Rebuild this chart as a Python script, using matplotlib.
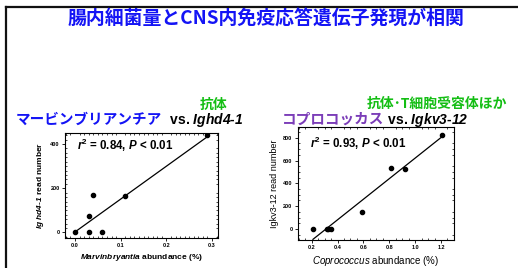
import numpy as np
import matplotlib
matplotlib.use("Agg")
import matplotlib.pyplot as plt
from matplotlib.ticker import MultipleLocator
from matplotlib.lines import Line2D

# ---------------- data ----------------
marvin_x = [0.0, 0.03, 0.06, 0.03, 0.04, 0.11, 0.29]
ighd_y = [0, 0, 0, 75, 170, 165, 440]
copro_x = [0.21, 0.32, 0.33, 0.35, 0.59, 0.81, 0.92, 1.21]
igkv_y = [0, 0, 0, 0, 145, 535, 525, 825]
left_xticks = [0.0, 0.1, 0.2, 0.3]
left_yticks = [0, 200, 400]
right_xticks = [0.2, 0.4, 0.6, 0.8, 1.0, 1.2]
right_yticks = [0, 200, 400, 600, 800]
title = "腸内細菌量とCNS内免疫応答遺伝子発現が相関"
left_name = "マービンブリアンチア"
right_name = "コプロコッカス"
left_tag = "抗体"
right_tag = "抗体･T細胞受容体ほか"
left_stat = r"$\mathbfit{r}^{\mathbf{2}}$ = 0.84, $\mathbfit{P}$ < 0.01"
right_stat = r"$\mathbfit{r}^{\mathbf{2}}$ = 0.93, $\mathbfit{P}$ < 0.01"

plt.rcParams['font.family'] = ['Liberation Sans', 'DejaVu Sans']
plt.rcParams['mathtext.fontset'] = 'custom'
plt.rcParams['mathtext.rm'] = 'Liberation Sans:bold'
plt.rcParams['mathtext.bf'] = 'Liberation Sans:bold'
plt.rcParams['mathtext.it'] = 'Liberation Sans:italic'
plt.rcParams['mathtext.bfit'] = 'Liberation Sans:italic:bold'

W, H = 518, 268
fig = plt.figure(figsize=(W / 100, H / 100), dpi=100)
fig.patch.set_facecolor('white')

def fx(px):
    return px / W

def fy(py):
    return 1 - py / H

JP = ['Noto Sans CJK JP', 'DejaVu Sans']
BLUE = '#1414F5'
GREEN = '#14BE14'
PURPLE = '#7B3DB8'

# slide frame
fig.add_artist(Line2D([fx(5.5), fx(W)], [fy(7), fy(7)], transform=fig.transFigure,
                      color='#111111', lw=1.6))
fig.add_artist(Line2D([fx(5.5), fx(5.5)], [fy(7), fy(H)], transform=fig.transFigure,
                      color='#111111', lw=1.6))

# main title
fig.text(fx(265.5), fy(18), title, family=JP, weight='bold', color=BLUE,
         fontsize=13.6, ha='center', va='center')

# axes
axL = fig.add_axes([fx(65), fy(238), fx(218) - fx(65), fy(133) - fy(238)])
axR = fig.add_axes([fx(297.7), fy(240), fx(454.3) - fx(297.7), fy(126.7) - fy(240)])

def style(ax, xminor, yminor):
    for s in ax.spines.values():
        s.set_linewidth(0.8)
    ax.xaxis.set_minor_locator(MultipleLocator(xminor))
    ax.yaxis.set_minor_locator(MultipleLocator(yminor))
    ax.tick_params(which='major', direction='out', length=2.2, width=0.6,
                   labelsize=4, pad=1.5)
    ax.tick_params(which='minor', direction='in', length=1.4, width=0.5,
                   top=True, right=True)
    for lab in ax.get_xticklabels() + ax.get_yticklabels():
        lab.set_fontweight('bold')

# left panel
axL.scatter(marvin_x, ighd_y, s=9, color='black', zorder=3)
m, b = np.polyfit(marvin_x, ighd_y, 1)
xl = np.array([min(marvin_x), max(marvin_x)])
axL.plot(xl, m * xl + b, color='black', lw=0.9)
axL.set_xlim(-0.022, 0.313)
axL.set_ylim(-25, 450)
axL.set_xticks(left_xticks)
axL.set_xticklabels([f"{v:.1f}" for v in left_xticks])
axL.set_yticks(left_yticks)
style(axL, 0.01, 20)
axL.set_xlabel(r"$\mathbfit{Marvinbryantia}$ abundance (%)", fontsize=6, weight='bold', labelpad=3)
axL.set_ylabel(r"$\mathbfit{Ig\ hd4}\text{-}\mathbfit{1}$ read number", fontsize=6, weight='bold', labelpad=3)
axL.text(0.078, 0.84, left_stat, transform=axL.transAxes, fontsize=8.3, weight='bold',
         ha='left', va='baseline')

# right panel
axR.scatter(copro_x, igkv_y, s=9, color='black', zorder=3)
m2, b2 = np.polyfit(copro_x, igkv_y, 1)
xr = np.array([min(copro_x), max(copro_x)])
axR.plot(xr, m2 * xr + b2, color='black', lw=0.9)
axR.set_xlim(0.092, 1.303)
axR.set_ylim(-97, 897)
axR.set_xticks(right_xticks)
axR.set_xticklabels([f"{v:.1f}" for v in right_xticks])
axR.set_yticks(right_yticks)
style(axR, 0.05, 50)
axR.set_xlabel(r"$\mathit{Coprococcus}$ abundance (%)", fontsize=7, labelpad=2.5)
axR.set_ylabel("Igkv3-12 read number", fontsize=6.5, labelpad=3)
axR.text(0.079, 0.81, right_stat, transform=axR.transAxes, fontsize=8.3, weight='bold',
         ha='left', va='baseline')

# panel titles
t1 = fig.text(fx(16), fy(124), left_name, family=JP, weight='bold', color=BLUE,
              fontsize=10.5, ha='left', va='baseline')
axL.annotate(r"  vs. $\mathbfit{Ighd4}\text{-}\mathbfit{1}$", xy=(1, fy(124)),
             xycoords=(t1, 'figure fraction'), fontsize=10, weight='bold', color='black',
             ha='left', va='baseline', annotation_clip=False)
fig.text(fx(214), fy(109), left_tag, family=JP, weight='bold', color=GREEN,
         fontsize=10, ha='center', va='baseline')

t2 = fig.text(fx(282), fy(124), right_name, family=JP, weight='bold', color=PURPLE,
              fontsize=10.5, ha='left', va='baseline')
axR.annotate(r" vs. $\mathbfit{Igkv3}\text{-}\mathbfit{12}$", xy=(1, fy(124)),
             xycoords=(t2, 'figure fraction'), fontsize=10, weight='bold', color='black',
             ha='left', va='baseline', annotation_clip=False)
fig.text(fx(437), fy(108), right_tag, family=JP, weight='bold', color=GREEN,
         fontsize=10, ha='center', va='baseline')

fig.savefig("out.png", dpi=100)
